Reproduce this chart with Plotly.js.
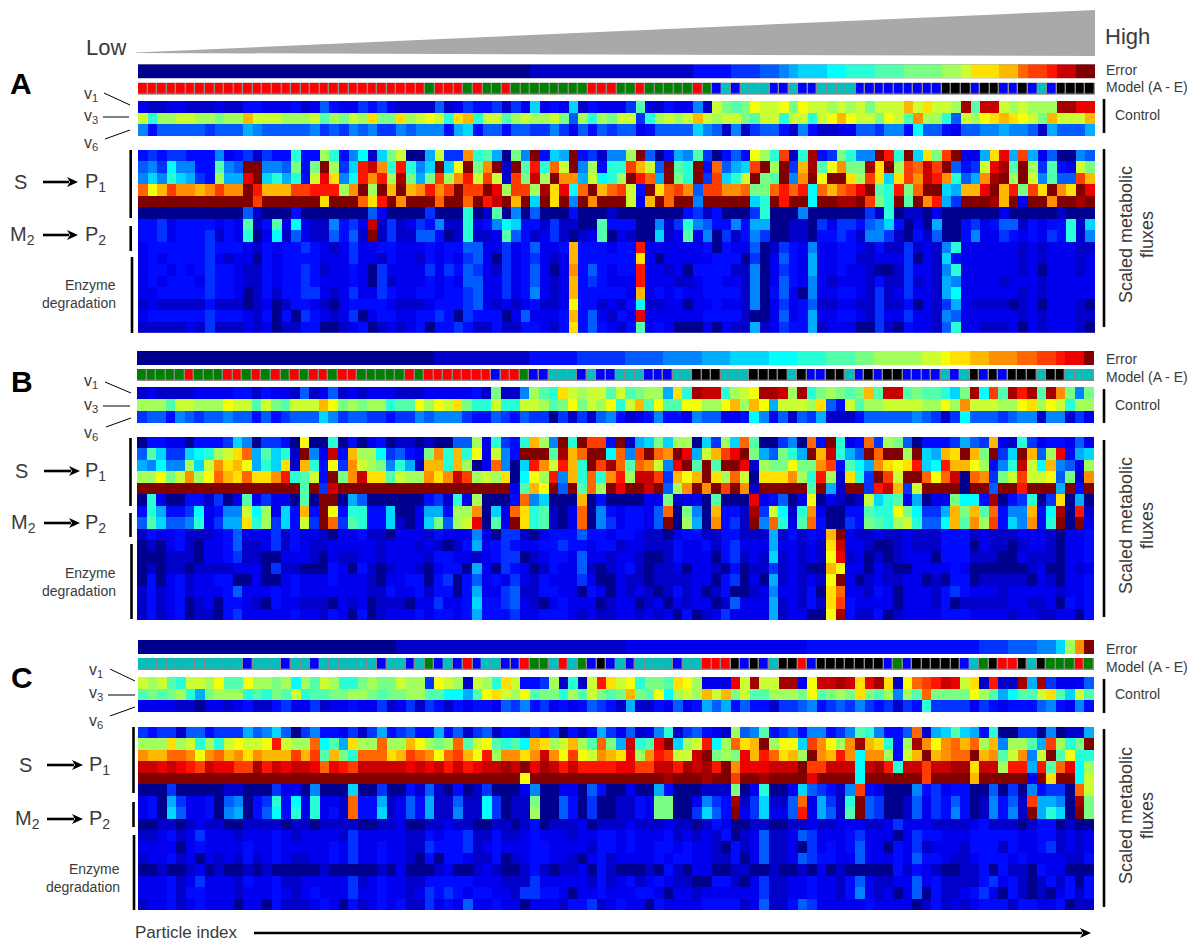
<!DOCTYPE html>
<html><head><meta charset="utf-8">
<script src="https://cdn.plot.ly/plotly-3.0.1.min.js"></script>
<style>html,body{margin:0;padding:0;background:#fff}#c{width:1199px;height:941px}</style>
</head><body><div id="c"></div>
<script>
// Levels: a (lowest, navy) ... z (highest, dark red). Models: A..E.
const errorA = "aaaaaaaaaa aaaaaaaaaa aaaaaaaaaa aaaaaaaaaa abbbbbbbbb bbbbbbbbdd ddeeeffghi iijjkkklll mmmmnnoqqq rrtuuvxxzz";
const modelA = "AAAAAAAAAA AAAAAAAAAA AAAAAAAAAA BAAABABBAB BBBBBBBAAA BBABBBBBAB DCDCCCDDCD DCCCCDDDDD DDDDEEEDEE DDEDCDEEEE";
const controlA = [
"cbbccbbbcbbddcccdbcfdccedec bbbbfbcedd ebecicdcib dccce lcbdc cgbomlmpoo pm poonono mooo roqoon ylxx ononnn yyww",
"oknnoonnmnnrooonnnolnmonqmm qnopokqrko olnonnomfn knmooeknon oronoomloo ko okoprpoomp olsnnkfonp qrqpomrooo r",
"gdfffffefffhgfffffgefegfgee gfgggdhidf fdffeegecf dfeffcdfff figfbgbeff db gdbbccffeg gdjffdcffg ghggfbhfff h"];
const fluxA = [
"dedeedddgcdebeddkddnkdgjbim oaahoeeskl hamgzdihzd ebggnzfadh gleadfdpnk ub kydemkggzv kziqmuzcch qwhuhcfaag f",
"fgejggddlgfzzggfmdmzneivxsk vkgizipzms zbzlvktozg ndkkurofzl kzdtfhiuzn ze rylpsmmyqz nutxuzfdeo wylzneldco m",
"gigkihednhhwzikhkdowqgjvsvn ymhmunsvou obumxnzssh ojknzvthzm kzeuikozml zg szpzzqnuqi qusxvskfhs yznzoglffu r",
"tprussrsusszvrrruuvvvnsznzr zrsvsuzuuz wnuunyqwjt zrtuodzqtu sfuusstmmt vt vjtrtuwzlk vmtzzihrrw zrvmuqzsqz w",
"zzzzzzzzzzzzuzzzzzzqzzztqvz szzztzztzv xzrzizqzgz szzzocrztz zgzzzzzikz vz zjzzyyzumk zlzsvhezzz yrzczzszzy z",
"aaaaaaaaaaafbaaadaaaaaaafca aaaeaaakab lagafaaada aabaaaaaaa debdaaaeka aa gaaaaaaebk abbacaaaaa acaaaaabaa a",
"ddecddddcdclbdlcjcbbgdecxbe bcedgbbkcd gjiddbebba aldddaagbe kgfddgdhha ab baeceedfgi dacahaadec dffbdcddkb i",
"ddecdddebdckacjbfcbbfdfbzbe bbffdabkbb clfdbcebab clacbaaibc lcgaebdgea ab baddedbgge badbfaadgc cedcdcedkb g",
"cddddddedddcbdcddedcbceccdd cccdcddffc cecdfccdrd ddcddvcccc ccdadccfab ed cgccddcbdb bebcbgkccc cccbcbcccb b",
"cdcddddecbccadcddddccceccbd ccbdcdcefc aecdecbcrd dddddqcacc cccdddaeac fd chccddbbcc ceacbidccc cccbcbcccb c",
"cddcdcdeddcbbdcddedbccdcaec cccecedfec becdfcacsd fdcddvccbc addddbbgac ed chccdccbaa beccbgkccc cccbcacccb c",
"cdcdddceddcbbdcddedcccdcaeb cccdcdcffc cecdfcbcrd edcccvcccb bcddccbgac fd cgcbcccbdb bebcbhgccc cbcccbcccc c",
"ccdddddeddcabdbddeecbcecced ccddcddefc cecdgcbcrd ddddcrcdcd ccddddbgad fc agccddcbeb ceccbhjccc cccbcbcccc c",
"bcbbbbbdbbbabcabddcbacddddc bbbcdddefc bcbcdbbcpd dbcbdjbbcc accdccbgac ec dfbbccbbeb bdacbehcbb bbabcacccb a",
"cddddddedddcbdadaedcbceacdd ccddedaedd dacfcccdrd fcbdcwcccc ccddddbaac fc dhccddcbec ceccbgfccc cccbcbcccb b",
"bbbbbcbebbbcbcabbddaabcdabc bcdaddedbb dbbddcbdqd fdcbdlcdca aacacbbhbc ed dhbcccaaeb adccbfkccb bbcacbcccb a"];

const errorB = "aaaaaaaaaa aaaaaaaaaa aaaaaaaaaa abbbbbbbbb bdddddeeee effffggggh hhiiiijjjk kklllmmnnn nnoopqqrrs ssttuuvwwz";
const modelB = "BBBBBABBBA ABABABABAA BAABBBBBAB AAAAAAADAA BDDCCCDCDD CCCDDDCCEE ECCCEEEECE DDEECDEDEE DDDDCDCEDE DEEECEECCC";
const controlB = [
"bcbbbbccccddbdccbfbcfbcbccc bbbcccccdb mbbgnlkqon oololmnnhq kyxxknopyy xny kmnmlmrlxx lmllkimyju lyvylysmgm",
"nnnloonnnpoolomlooorpmnmnnk llpnpoqmkk okkoonlmpm onpkorlpll ppnnprnrph ooo nqfdolnnoo oonnpnsooo nnpqnpoknn",
"effdgfeffgffdfdefffigeffeed eegfgggedd fedfeeaebe bfgdbcdgdd cgffccdjgc fbf ehbbbdffff fgfebejfff efggbggbec"];
const fluxB = [
"addccadddeigaeedapaakadacda bbabaaffnc kedkrngzkz uudzbhimin naienitlaa ega tdzkcdtenm fadddehfer cbkecddcfc",
"flieeijknoqthlikbzgcxdrnnje fdcmskrkpc ogdzzzlyrt zzjtguztsz whoruwzmhf mkh zrxkhfztzz nzihrqzrmz eizrfnwdhi",
"hgjggniosqrphkiqbrkdpesonmg khbrrkrnac tgaivsovrk zuytltsogw zlzlzzwbnm mpm msudljhsqp qvijvrrpnd gkxojrgfcn",
"nnpmosnptrqtqqsvklodzmsxqql onnsqsxuno nqajpnvgrk tksvnxxuer przqntoaqq qsn kvnbqkezuo zztptxatse mouoopfmbs",
"zzzzzzzzzzzzzzzzzlzexzzzzzz zzzzzzzzzz zzclrpzfzl tnzwzzxzfn szszuzsbzz zzz lzhbzzevxr eozzzzazzf zzvzzzhzdz",
"akcaaddbeaclceccalazzahfaaa aaadebkcna aadtgiaaar adaaaaccmb ccalaaawcd fac pacbaboikl chaccmjjdy adekaeqaha",
"dkhddejcdggojncidrdzpdkkddi aachhdnnsa ictqklbact agdcddcfta mgarddbyeo jbk scaaddlkkp mjeehrmrlt dggrdjyavb",
"fliffgkcehhqkneidoeztelkddi bacimfnowa lczqklbact agecddcfza nhasdebzgt kcl tdaaedmlkn okffjrlsnu digsdkzazc",
"bdccdbbbcdfcccebdccbaccdbba cccbdcccgc aeebacdddf ddcddcbbac ddbbddbbbh bdb dcrzcbbcbb cbbbdddbcb bbcccbaccd",
"abacdbaccdfbbcebdcbbcccccbc ccbcbabdhc dedccddedd cddbccbbbd ccdbdeccch ccb cbqxccbaab cbbbdddacb babccbaccd",
"aaabbbaccdebbaacccbacbbccbc cccbddccbc deeabcddcf ccbccbaabd cccadebcbi bcb cbpwbcabab cccadddbbb aacbbbaccd",
"ababbabbbbcccaebbaaadcadbab ccbacddahc aedcabdccf babcdbabbc accbadabbe bcb aarpccacba accccdcaaa aaabcaacbc",
"adacdbccddaacaacdcccdcccbac cddadeadfc dcecbdccce caacbbabbb bccadeacah bcb cbpzcabcbb ccabaddabb bbbacbaccd",
"bdbcdbcccdfcccdcdcccccccbbd ccdbddadhc cefbbddcca dcacbcbabd bcabdaabcg ccb daqtccbdca cccbdedccc bcccccbccd",
"bdbcdabcaddcbadccbbbacbcabb bacceccdid defcbacdcc cabccabcac bccabfccch bcb dbqudcccca cccbdabbbb bccbbcadcd",
"bdbcdabbadecccccdccbdcadabc ccdcddcdhd ddeccdddcb cbbccbcbca dabcecccch bcc aapydbbdab ccccdddccc cbccbbccad"];

const errorC = "aaaaaaaaaa aaaaaaaaaa aaaaaaabbb bbbbbbbbbb bbbbbbbbbb bccccccccc cccccccccc dddddddddd ddddddddee efffgginsz";
const modelC = "CCCCCCCCCC CDCCCDCCDC CCCCCDCCDC BDCDADCCDD ABBCACBDED CDCCCCDCCA AAEDEDCEEA DEEEEEEEDB DEEEEEDCBE AAECEBBBAB";
const controlC = [
"onolkoonpllpnnmnjnlonkkmnmm onneponbon kqoddenbkb ovqopkmmlq pncccwoyoo yyc pxxyxqwyqb ptuvxwoqbv bbyhyecccf",
"lmlmnkhmnnnklkmlokllmmnnmlm mnnlljjhlp qonplmmknl omlmrmlpjn onrormolln nnm plmnmqmlng nltmmmmpnl hjlloqliol",
"ccccbbaccbcdbbdeccebccdcceb cebedbdcdd cfegdecdcd fedbhbbdcf cdhfhdfddb eef gdefegedeb edkeeeeced cdddfgdcgd"];
const fluxC = [
"edeebffdeeehfgifaegddcebehd efddhdfbef bddbedeadb dhecfbcgkb efdcbnfgld efd ggdeglkgdd ftbhilihdk aaeeagabbh",
"nnnqnoknkopoopvonntjlhqnntn nrpnmntlop lkljrqnorn ltmhxklwzi novjntqrzn ppi uspnsyrqkd nyspstrtnr gnnlhunkmz",
"srrttspstrsqsrrrurulrmktttq rutspturpv nssqsxspup osrqwnsvuo oxzmnmwrvt qrn zsrvsjssnd orzrsttzrs losgozlpkk",
"xxwxwvuxwwuuyvxwxxwtwvuxxxx xwxwxvxvwx xyxzwyxvxv vvvwwuuxxv yxyvzswwwx xxz uuxxxjxyvk xxuxxyyqxx nvvhvltwjn",
"zzzzzzzzzzzzzzzzzzzzzzzzzzz zzzzzzzzzz zzzpzzzzzz zzzzzzzzyz zzyzzuzzyz zzz wzzzzjzzzz zzuzzzzrzz zzzczqzzjo",
"aaaeaaaaabbaaaeccagaaaiaaea adbfbadabe aaacgaacca fdaacaahda aabbbmacka aci fedbgudcaa agdecddaaf aeagdeeato",
"cdaheccdafgadekdjckccbtddhb cfdhbbfbbj eabbmaafda eaabbdcmma acgedybeib bft chebkzfeaa bfcedfdabg dfbuhhgaym",
"cdaifccdaghadfjdkckcdbtddib cfdhbbgbbj eabbnaafda eaabbdcmma aeifdzceic cfv chfblzfeaa bfcedgdabg dgbzhkiazm",
"aabbabcbbaabbbbabbabbbbaabb caabbcbbaa bbabdabbbc abbbcbbbcb babdcaabba abb cbbcccbbce cccbbbbcdb bbabddabaa",
"bbcdbcecccbcccdcbccccbecccc cbbdcddebb dbbcdcccbc cddcdcccdb cbcbdabcfb bcf ecccdeccca ceddcccddd ddccddbcbc",
"ccccacdccccdccdcccccdceccdc cbbedddebc dcccddcccc bddcdccddc dccbadbcfb bca ecdcdfccad cebcccbddd bdccdebcbc",
"bccdbcacbcbdbcdcbbccdceccdc cbadaddcbb dabcddccba cdbccccdcd dccbbdacfb bcf eddccfcccd cfddcbbcdd dcdccccbbd",
"aabaabcabaababaaaaabaaaaaba caaabcaabc baabdbabbc adbaaabadb accaabbaab aab acabaaaaad bdcbaabbda dbbadccaaa",
"cccdbcecccbdccdbbccccceb cdc cbbdddddcc cbbbeccccc bdbcdbcdcb baaddbaceb bcc dccbdfcbbc cfcdbbbbde cdbabdbdad",
"cccdbddcccbcccdcbcdccceccdc cbcededcdd ccbeeddcac cdcccddcac cbcccccceb bcc dccbdgcbca cfadbbcdec adbabacdbd",
"bccdbcdcccaccadbbbcdcadbcdc dbbecdcfcc dccacccbdd ebcdccadcc ccddddbcfb bdf ecccccdccc cabdbcbcdd dbddccdabb"];

const LOW = {a:0.012,b:0.062,c:0.095};
const JET = [[0,'rgb(0,0,128)'],[0.11,'rgb(0,0,255)'],[0.36,'rgb(0,255,255)'],[0.61,'rgb(255,255,0)'],[0.86,'rgb(255,0,0)'],[1,'rgb(128,0,0)']];
const MODELS = [[0,'#ff0000'],[.2,'#ff0000'],[.2,'#008000'],[.4,'#008000'],[.4,'#00bfbf'],[.6,'#00bfbf'],[.6,'#0000ff'],[.8,'#0000ff'],[.8,'#000000'],[1,'#000000']];
const clean = s => {const t=s.replace(/\s/g,'');return t.padEnd(100,t.slice(-1)).slice(0,100).split('');};
const lev = s => clean(s).map(c => c in LOW ? LOW[c] : (c.charCodeAt(0)-97)/25);
const mdl = s => clean(s).map(c => c.charCodeAt(0)-65);
const W=1199,H=941,X=x=>x/W,Y=y=>1-y/H;
const FONT='"Liberation Sans",Arial,sans-serif';

const data=[],layout={width:W,height:H,margin:{l:0,r:0,t:0,b:0},paper_bgcolor:'#fff',plot_bgcolor:'#8a8a8a',showlegend:false,shapes:[],annotations:[]};
let n=0;
function band(z,x0,x1,y0,y1,opt){
  n++; const s=n===1?'':n;
  layout['xaxis'+s]={domain:[X(x0),X(x1)],anchor:'y'+s,visible:false,range:[-.5,99.5],fixedrange:true};
  layout['yaxis'+s]={domain:[Y(y1),Y(y0)],anchor:'x'+s,visible:false,range:[z.length-.5,-.5],fixedrange:true};
  data.push(Object.assign({type:'heatmap',z:z,xaxis:'x'+s,yaxis:'y'+s,showscale:false,colorscale:JET,zmin:0,zmax:1,hoverinfo:'skip'},opt||{}));
}
function txt(t,x,y,size,o){layout.annotations.push(Object.assign({text:t,x:X(x),y:Y(y),xref:'paper',yref:'paper',showarrow:false,xanchor:'left',yanchor:'middle',font:{family:FONT,size:size,color:'#3a3a3a'}},o||{}));}
function line(x0,y0,x1,y1,w){layout.shapes.push({type:'line',xref:'paper',yref:'paper',x0:X(x0),x1:X(x1),y0:Y(y0),y1:Y(y1),line:{color:'#000',width:w}});}
function arrow(x0,x1,y,w,hl,hh){
  line(x0,y,x1-hl+2,y,w);
  layout.shapes.push({type:'path',xref:'paper',yref:'paper',fillcolor:'#000',line:{width:0},
    path:`M ${X(x1)} ${Y(y)} L ${X(x1-hl)} ${Y(y-hh)} L ${X(x1-hl+3)} ${Y(y)} L ${X(x1-hl)} ${Y(y+hh)} Z`});
}
function panel(p){
  band([lev(p.error)],p.x0,p.x1,p.ye[0],p.ye[1]);
  band([mdl(p.model)],p.x0,p.x1,p.ym[0],p.ym[1],{colorscale:MODELS,zmin:-.5,zmax:4.5,xgap:1.4,ygap:1.4});
  band(p.control.map(lev),p.x0,p.x1,p.yc[0],p.yc[1]);
  band(p.flux.map(lev),p.x0,p.x1,p.yf[0],p.yf[1]);
  const t=p.t;
  txt(p.name,t.lx,t.ly,30,{font:{family:FONT,size:30,color:'#000',weight:700}});
  [['v<sub>1</sub>',t.v[0]],['v<sub>3</sub>',t.v[1]],['v<sub>6</sub>',t.v[2]]].forEach(a=>txt(a[0],t.vx-2,a[1],16));
  t.c.forEach(c=>line(c[0],c[1],c[2],c[3],1));
  txt('S',t.sx-2,t.sy,20); arrow(t.ax0,t.ax1,t.sy,2.6,11,5); txt('P<sub>1</sub>',t.px-2,t.sy,20);
  txt('M<sub>2</sub>',t.mx-2,t.my,20); arrow(t.ax0,t.ax1,t.my,2.6,11,5); txt('P<sub>2</sub>',t.px-2,t.my,20);
  txt('Enzyme',t.ex,t.ey[0],14,{xanchor:'right'}); txt('degradation',t.ex,t.ey[1],14,{xanchor:'right'});
  t.b.forEach(b=>line(b[0],b[1],b[0],b[2],2.6));
  txt('Error',1104,t.re,14); txt('Model (A - E)',1104,t.rm,14); txt('Control',1113,t.rc,14);
  line(1104,t.cb[0],1104,t.cb[1],2.6); line(1104,t.fb[0],1104,t.fb[1],2.6);
  txt('Scaled metabolic',1126,t.sc,18,{textangle:-90,xanchor:'center'});
  txt('fluxes',1147,t.sc,18,{textangle:-90,xanchor:'center'});
}
panel({name:'A',error:errorA,model:modelA,control:controlA,flux:fluxA,x0:138,x1:1095,ye:[64.3,78.3],ym:[82.7,94.7],yc:[101,136],yf:[150,332.7],
 t:{lx:8,ly:83,vx:84,v:[94,117,144],c:[[104,93,130,105],[103,117,129,117],[105,139,130,130]],sx:14,sy:182,ax0:43,ax1:78,px:85,mx:10,my:235,ex:118,ey:[285,303],
 b:[[130.7,150,218],[130.7,226,251],[132,257,333]],re:70,rm:87,rc:115,cb:[99,133],fb:[149,327],sc:235}});
panel({name:'B',error:errorB,model:modelB,control:controlB,flux:fluxB,x0:137,x1:1094,ye:[351,365],ym:[369,381],yc:[387,423],yf:[437,620],
 t:{lx:9,ly:381,vx:84,v:[382,406,433],c:[[105,382,131,393],[103,406,130,406],[106,427,131,418]],sx:15,sy:471,ax0:44,ax1:80,px:85,mx:11,my:523,ex:118,ey:[573,591],
 b:[[130.5,438,506],[130.5,513,537],[131.5,544,619]],re:359,rm:377,rc:405,cb:[389,423],fb:[440,617],sc:526}});
panel({name:'C',error:errorC,model:modelC,control:controlC,flux:fluxC,x0:138,x1:1094,ye:[640,654],ym:[658,670],yc:[677,712],yf:[727,910],
 t:{lx:9,ly:677,vx:89,v:[670,693,721],c:[[110,669,135,681],[108,695,135,695],[110,716,135,707]],sx:19,sy:765,ax0:47,ax1:83,px:89,mx:15,my:819,ex:122,ey:[869,887],
 b:[[133.5,727,793],[133.5,802,827],[134,835,910]],re:649,rm:667,rc:694,cb:[679,713],fb:[729,907],sc:816}});

layout.shapes.push({type:'path',xref:'paper',yref:'paper',layer:'below',fillcolor:'#a8aaa9',line:{width:0},
  path:`M ${X(136)} ${Y(52.5)} L ${X(1095)} ${Y(10)} L ${X(1095)} ${Y(56)} L ${X(136)} ${Y(53)} Z`});
txt('Low',84,47,22); txt('High',1103,36,22);
txt('Particle index',133,932,17);
arrow(254,1091,933,2.4,11,5);
Plotly.newPlot('c',data,layout,{staticPlot:true,displayModeBar:false});
</script></body></html>
